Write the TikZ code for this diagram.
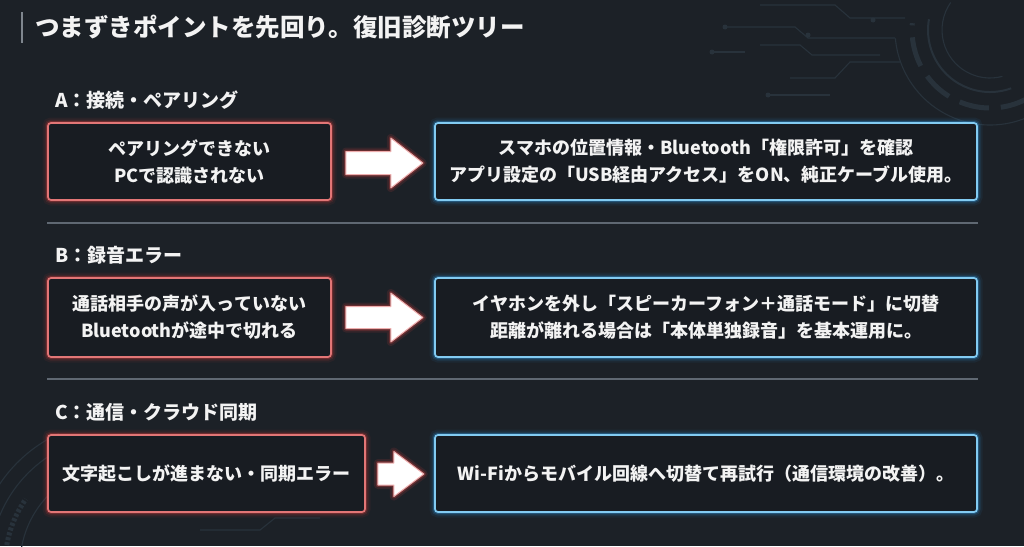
\documentclass[tikz,border=0pt]{standalone}
\usepackage{fontspec}
\setmainfont{Noto Sans CJK JP}
\usetikzlibrary{calc}
\definecolor{bg}{HTML}{1C2127}
\definecolor{boxfill}{HTML}{181C22}
\definecolor{redglow}{HTML}{C43C3C}
\definecolor{redline}{HTML}{E27676}
\definecolor{blueglow}{HTML}{2E8FD3}
\definecolor{blueline}{HTML}{82CBF2}
\definecolor{txt}{HTML}{F3F3F3}
\definecolor{sep}{HTML}{5F6872}
\definecolor{decoc}{HTML}{28323B}
\begin{document}
\begin{tikzpicture}[x=1pt,y=-1pt,
  boxtext/.style={text=txt,font=\bfseries\fontsize{18}{27}\selectfont,align=center,inner sep=0pt},
  redbox/.style={boxtext,rounded corners=3pt,fill=boxfill,
    preaction={draw=redglow,line width=11pt,opacity=0.08,rounded corners=3pt},
    preaction={draw=redglow,line width=7pt,opacity=0.15,rounded corners=3pt},
    preaction={draw=redglow,line width=4pt,opacity=0.35,rounded corners=3pt},
    draw=redline,line width=1.7pt},
  bluebox/.style={boxtext,rounded corners=3pt,fill=boxfill,
    preaction={draw=blueglow,line width=11pt,opacity=0.08,rounded corners=3pt},
    preaction={draw=blueglow,line width=7pt,opacity=0.15,rounded corners=3pt},
    preaction={draw=blueglow,line width=4pt,opacity=0.35,rounded corners=3pt},
    draw=blueline,line width=1.7pt},
  barrow/.style={fill=white,
    preaction={draw=redglow,line width=8pt,opacity=0.15,line join=round},
    preaction={draw=redglow,line width=4pt,opacity=0.35,line join=round},
    draw=redline!60!white,line width=1pt,line join=round},
  seclabel/.style={text=txt,font=\bfseries\fontsize{19}{22}\selectfont,anchor=west,inner sep=0pt},
  sepline/.style={draw=sep,line width=1.8pt},
  deco/.style={draw=decoc,line width=1.1pt},
  decodot/.style={fill=decoc}
]
\fill[bg] (0,0) rectangle (1024,546);
\useasboundingbox (0,0) rectangle (1024,546);

% background decorations, top right
\draw[deco] (990,30) ++(75:48) arc[start angle=75,end angle=215,radius=48];
\draw[deco,line width=2pt] (990,30) ++(70:62) arc[start angle=70,end angle=190,radius=62];
\draw[deco,line width=5pt,dash pattern=on 30pt off 12pt] (990,30) ++(60:78) arc[start angle=60,end angle=185,radius=78];
\draw[deco] (990,30) ++(55:95) arc[start angle=55,end angle=175,radius=95];
\draw[deco] (760,5) -- (835,5) -- (850,18) -- (905,18);
\draw[deco] (725,27) -- (795,27) -- (808,38) -- (895,38);
\draw[deco] (712,52) -- (745,52);
\draw[deco] (760,45) -- (800,45) -- (812,55) -- (880,55);
\draw[deco] (790,78) -- (835,78) -- (850,62) -- (900,62);
\draw[deco] (768,95) -- (830,95);
\fill[decodot] (725,27) circle (2.5) (712,52) circle (2.5) (808,35) circle (2.5) (768,95) circle (2.5) (873,20) circle (2.5);
% background decorations, bottom left
\draw[deco] (120,565) ++(185:100) arc[start angle=185,end angle=255,radius=100];
\draw[deco,line width=5pt,dash pattern=on 3pt off 2pt] (120,565) ++(190:115) arc[start angle=190,end angle=215,radius=115];
\draw[deco] (120,565) ++(180:130) arc[start angle=180,end angle=260,radius=130];
\draw[deco] (120,565) ++(185:145) arc[start angle=185,end angle=245,radius=145];
\draw[deco] (200,530) -- (260,530) -- (275,518) -- (320,518);

% title
\draw[draw=sep!80!white,line width=1.2pt] (22,12) -- (22,43);
\node[text=txt,font=\bfseries\fontsize{24.5}{28}\selectfont,anchor=west,inner sep=0pt] (title) at (35,27) {つまずきポイントを先回り。復旧診断ツリー};

% section A
\node[seclabel] (labA) at (55,100) {A：接続・ペアリング};
\node[redbox,minimum width=283pt,minimum height=77pt] (rA) at (189.5,161.5) {ペアリングできない\\PCで認識されない};
\node[bluebox,minimum width=542pt,minimum height=77pt] (bA) at (706,161.5) {スマホの位置情報・Bluetooth「権限許可」を確認\\アプリ設定の「USB経由アクセス」をON、純正ケーブル使用。};
\draw[barrow] ($(rA.east)+(14,-10)$) -- ++(45,0) -- ++(0,-13.5) -- ++(32,25) -- ++(-32,25) -- ++(0,-13.5) -- ++(-45,0) -- cycle;
\draw[sepline] (47,223) -- (978,223);

% section B
\node[seclabel] (labB) at (55,255) {B：録音エラー};
\node[redbox,minimum width=283pt,minimum height=79pt] (rB) at (189.5,317.5) {通話相手の声が入っていない\\Bluetoothが途中で切れる};
\node[bluebox,minimum width=542pt,minimum height=79pt] (bB) at (706,317.5) {イヤホンを外し「スピーカーフォン＋通話モード」に切替\\距離が離れる場合は「本体単独録音」を基本運用に。};
\draw[barrow] ($(rB.east)+(14,-11)$) -- ++(45,0) -- ++(0,-13.5) -- ++(32,24.5) -- ++(-32,24.5) -- ++(0,-13.5) -- ++(-45,0) -- cycle;
\draw[sepline] (47,379) -- (978,379);

% section C
\node[seclabel] (labC) at (55,412) {C：通信・クラウド同期};
\node[redbox,minimum width=317pt,minimum height=77pt] (rC) at (206.5,473.5) {文字起こしが進まない・同期エラー};
\node[bluebox,minimum width=542pt,minimum height=77pt] (bC) at (706,473.5) {Wi-Fiからモバイル回線へ切替て再試行（通信環境の改善）。};
\draw[barrow] ($(rC.east)+(12,-10.5)$) -- ++(16,0) -- ++(0,-11.5) -- ++(30,22.5) -- ++(-30,22.5) -- ++(0,-11.5) -- ++(-16,0) -- cycle;
\end{tikzpicture}
\end{document}
